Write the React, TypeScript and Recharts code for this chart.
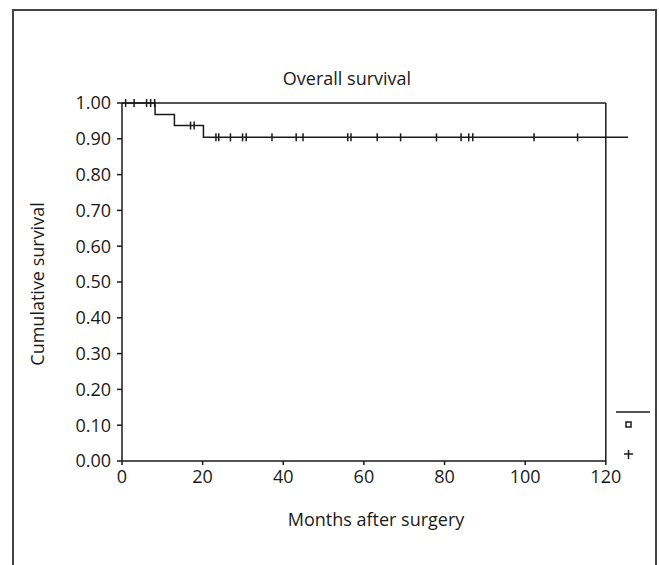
import React from 'react';
import {
  ComposedChart,
  Line,
  Scatter,
  XAxis,
  YAxis,
  ReferenceLine,
} from 'recharts';

// Kaplan-Meier steps (months, cumulative survival)
const stepMonths = [0, 8.2, 13.0, 20.2, 125.5];
const stepSurvival = [1.0, 0.968, 0.937, 0.904, 0.904];

// censored observations (months)
const censorMonths = [
  0.9, 3.0, 6.1, 7.1, 8.1, 17.0, 17.9, 23.3, 24.0, 26.9, 29.9, 30.8, 37.2, 43.2,
  44.9, 56.0, 56.8, 63.3, 69.1, 78.0, 84.1, 86.0, 87.0, 102.2, 113.0,
];

const xTicks = [0, 20, 40, 60, 80, 100, 120];
const yTicks = [0, 0.1, 0.2, 0.3, 0.4, 0.5, 0.6, 0.7, 0.8, 0.9, 1.0];

const FONT = '"Open Sans", "Noto Sans", sans-serif';
const INK = '#1a1a1a';

const curveData = stepMonths.map((m, i) => ({ month: m, survival: stepSurvival[i] }));

// survival at time t from the step function
const survivalAt = (t: number) => {
  let s = stepSurvival[0];
  stepMonths.forEach((m, i) => {
    if (t >= m) s = stepSurvival[i];
  });
  return s;
};

const censorData = censorMonths.map((m) => ({ month: m, survival: survivalAt(m) }));

const CensorTick = (props: any) => {
  const { cx, cy } = props;
  if (cx == null || cy == null) return null;
  return <line x1={cx} x2={cx} y1={cy - 4} y2={cy + 4} stroke={INK} strokeWidth={1.5} />;
};

// leftover legend symbols at the right edge (line, box, censor cross)
const LegendBox = () => (
  <svg width={40} height={60} style={{ position: 'absolute', left: 614, top: 405 }}>
    <line x1={2} x2={36} y1={7} y2={7} stroke={INK} strokeWidth={1.5} />
    <rect x={12} y={17} width={5} height={5} fill="none" stroke={INK} strokeWidth={1.5} />
    <line x1={10} x2={19} y1={49} y2={49} stroke={INK} strokeWidth={1.5} />
    <line x1={14.5} x2={14.5} y1={45} y2={54} stroke={INK} strokeWidth={1.5} />
  </svg>
);

export default function App() {
  return (
    <div
      style={{
        position: 'absolute',
        left: 0,
        top: 0,
        width: 659,
        height: 565,
        background: '#fff',
        fontFamily: FONT,
        overflow: 'hidden',
      }}
    >
      <div
        style={{
          position: 'absolute',
          left: 12,
          top: 9,
          width: 641,
          height: 600,
          borderLeft: '2px solid #444',
          borderTop: '2px solid #444',
          borderRight: '2px solid #444',
        }}
      />
      <div
        style={{
          position: 'absolute',
          left: 247,
          width: 200,
          top: 66,
          textAlign: 'center',
          fontSize: 18,
          color: INK,
        }}
      >
        Overall survival
      </div>
      <ComposedChart
        width={659}
        height={565}
        margin={{ top: 103, right: 29, bottom: 0, left: 0 }}
        style={{ position: 'absolute', left: 0, top: 0 }}
      >
        <XAxis
          type="number"
          dataKey="month"
          domain={[0, 126]}
          ticks={xTicks}
          axisLine={false}
          tickLine={{ stroke: INK, strokeWidth: 1.5 }}
          tickSize={4}
          tickMargin={5}
          tick={{ fill: INK, fontSize: 18, fontFamily: FONT }}
          height={104}
          label={{
            value: 'Months after surgery',
            position: 'insideTop',
            offset: 52,
            fill: INK,
            fontSize: 18,
            fontFamily: FONT,
          }}
        />
        <YAxis
          type="number"
          domain={[0, 1]}
          ticks={yTicks}
          width={122}
          axisLine={{ stroke: INK, strokeWidth: 1.5 }}
          tickLine={{ stroke: INK, strokeWidth: 1.5 }}
          tickSize={5}
          tickMargin={6}
          tickFormatter={(v: number) => v.toFixed(2)}
          tick={{ fill: INK, fontSize: 18, fontFamily: FONT }}
          label={{
            value: 'Cumulative survival',
            angle: -90,
            position: 'center',
            dx: -23,
            dy: 2,
            fill: INK,
            fontSize: 18,
            fontFamily: FONT,
          }}
        />
        <ReferenceLine segment={[{ x: 0, y: 0 }, { x: 120, y: 0 }]} stroke={INK} strokeWidth={1.5} />
        <ReferenceLine segment={[{ x: 0, y: 1 }, { x: 120, y: 1 }]} stroke={INK} strokeWidth={1.5} />
        <ReferenceLine segment={[{ x: 120, y: 0 }, { x: 120, y: 1 }]} stroke={INK} strokeWidth={1.5} />
        <Line
          data={curveData}
          dataKey="survival"
          type="stepAfter"
          stroke={INK}
          strokeWidth={1.5}
          dot={false}
          activeDot={false}
          isAnimationActive={false}
        />
        <Scatter
          data={censorData}
          dataKey="survival"
          shape={<CensorTick />}
          isAnimationActive={false}
        />
      </ComposedChart>
      <LegendBox />
    </div>
  );
}
